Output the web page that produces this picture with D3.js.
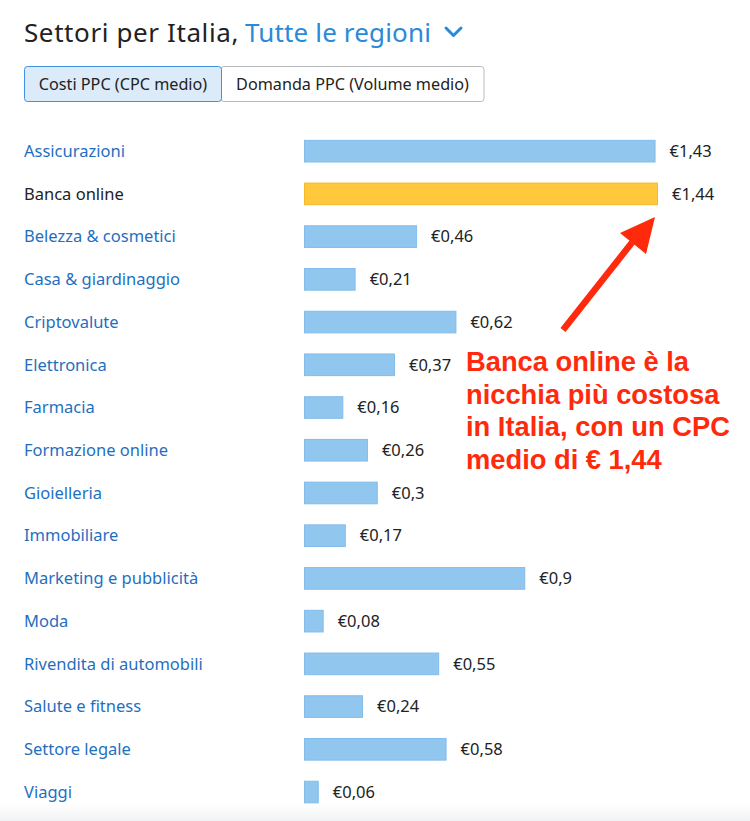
<!DOCTYPE html>
<html><head><meta charset="utf-8">
<script src="https://cdn.jsdelivr.net/npm/d3@7"></script>
<style>
html,body{margin:0;padding:0;background:#fff;}
svg{display:block;}
</style></head>
<body>
<svg id="c" width="750" height="821"></svg>
<script>
const categories = ["Assicurazioni","Banca online","Belezza & cosmetici","Casa & giardinaggio","Criptovalute","Elettronica","Farmacia","Formazione online","Gioielleria","Immobiliare","Marketing e pubblicità","Moda","Rivendita di automobili","Salute e fitness","Settore legale","Viaggi"];
const values = [1.43,1.44,0.46,0.21,0.62,0.37,0.16,0.26,0.3,0.17,0.9,0.08,0.55,0.24,0.58,0.06];
const valueLabels = ["€1,43","€1,44","€0,46","€0,21","€0,62","€0,37","€0,16","€0,26","€0,3","€0,17","€0,9","€0,08","€0,55","€0,24","€0,58","€0,06"];
const highlight = "Banca online";
const titleText = "Settori per Italia,";
const titleLink = "Tutte le regioni";
const tabs = ["Costi PPC (CPC medio)","Domanda PPC (Volume medio)"];
const noteLines = ["Banca online è la","nicchia più costosa","in Italia, con un CPC","medio di € 1,44"];

const svg = d3.select("#c");
const FONT = "'Noto Sans', 'Open Sans', sans-serif";

// bottom fade
const defs = svg.append("defs");
const g1 = defs.append("linearGradient").attr("id","fade").attr("x1",0).attr("y1",0).attr("x2",0).attr("y2",1);
g1.append("stop").attr("offset","0%").attr("stop-color","#ffffff");
g1.append("stop").attr("offset","100%").attr("stop-color","#f1f2f3");
svg.append("rect").attr("x",0).attr("y",803).attr("width",750).attr("height",18).attr("fill","url(#fade)");

// title
const t = svg.append("text").attr("x",24).attr("y",42).attr("font-family",FONT).attr("font-size",26);
t.append("tspan").attr("fill","#222").attr("letter-spacing",0.6).text(titleText);
t.append("tspan").attr("fill","#2b8ad8").attr("letter-spacing",0.15).attr("dx",6).text(titleLink);
svg.append("path").attr("d","M446,28 L453.5,35.5 L461,28").attr("fill","none").attr("stroke","#2b8ad8").attr("stroke-width",3).attr("stroke-linecap","round").attr("stroke-linejoin","round");

// tabs
svg.append("rect").attr("x",221).attr("y",66.5).attr("width",263).attr("height",35).attr("rx",3).attr("fill","#fff").attr("stroke","#b9bcbf");
svg.append("rect").attr("x",24.5).attr("y",66.5).attr("width",197).attr("height",35).attr("rx",3).attr("fill","#dcebfa").attr("stroke","#3f93e0");
svg.append("text").attr("x",123).attr("y",89.5).attr("text-anchor","middle").attr("font-family",FONT).attr("font-size",16.2).attr("fill","#222").text(tabs[0]);
svg.append("text").attr("x",352.5).attr("y",89.5).attr("text-anchor","middle").attr("font-family",FONT).attr("font-size",16.2).attr("fill","#222").text(tabs[1]);

// scales
const x = d3.scaleLinear().domain([0,1.44]).range([304,658]);
const y = d3.scaleBand().domain(categories).range([129.8,813.4]).paddingInner(0.47).paddingOuter(0.235);

const rows = svg.append("g").selectAll("g").data(categories).join("g");
rows.append("text")
  .attr("x",24).attr("y",d=>y(d)+y.bandwidth()/2).attr("dy","0.35em")
  .attr("font-family",FONT).attr("font-size",16.5)
  .attr("fill",d=>d===highlight?"#222":"#1f6fbf").text(d=>d);
rows.append("rect")
  .attr("x",x(0)+0.5).attr("y",d=>y(d)+0.5)
  .attr("width",(d,i)=>x(values[i])-x(0)-1).attr("height",y.bandwidth()-1)
  .attr("fill",d=>d===highlight?"#ffc83d":"#91c6ef")
  .attr("stroke",d=>d===highlight?"#f7b92a":"#83bcea");
rows.append("text")
  .attr("x",(d,i)=>x(values[i])+14).attr("y",d=>y(d)+y.bandwidth()/2).attr("dy","0.35em")
  .attr("font-family",FONT).attr("font-size",16.5).attr("fill","#222")
  .text((d,i)=>valueLabels[i]);

// annotation
const note = svg.append("text").attr("font-family","'Liberation Sans', Arial, sans-serif").attr("font-weight","bold").attr("font-size",27.3).attr("fill","#ff2a0c");
noteLines.forEach((l,i)=>note.append("tspan").attr("x",466).attr("y",371+i*32.7).text(l));

// arrow
svg.append("line").attr("x1",563).attr("y1",330).attr("x2",634).attr("y2",240).attr("stroke","#ff2a0c").attr("stroke-width",6.5);
svg.append("path").attr("d","M655,217 L646,254 L620,233 Z").attr("fill","#ff2a0c");
</script>
</body></html>
